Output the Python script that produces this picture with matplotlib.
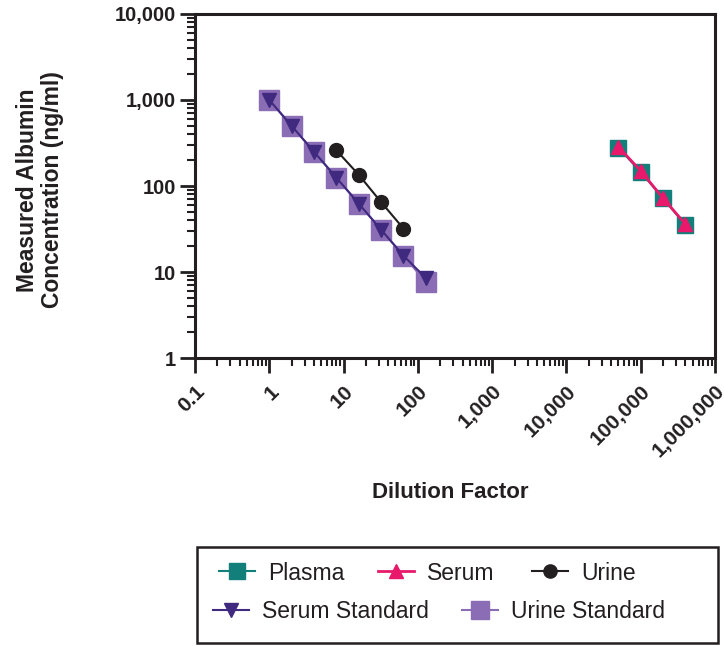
import matplotlib
matplotlib.use("Agg")
import matplotlib.pyplot as plt
from matplotlib.ticker import LogLocator, FixedLocator, NullFormatter
from matplotlib.patches import Rectangle

plt.rcParams['font.family'] = ['Liberation Sans', 'DejaVu Sans']

# Data
std_x = [1, 2, 4, 8, 16, 32, 64, 128]
urine_std_y = [1000, 500, 250, 125, 62.5, 31, 15.5, 7.6]
serum_std_y = [1000, 500, 250, 125, 62.5, 31, 15.5, 8.5]
urine_x = [8, 16, 32, 64]
urine_y = [260, 135, 65, 32]
plasma_x = [50000, 100000, 200000, 400000]
plasma_y = [280, 145, 72, 35]
serum_x = [50000, 100000, 200000, 400000]
serum_y = [285, 150, 72, 36]

x_ticks = [0.1, 1, 10, 100, 1000, 10000, 100000, 1000000]
x_labels = ["0.1", "1", "10", "100", "1,000", "10,000", "100,000", "1,000,000"]
y_ticks = [1, 10, 100, 1000, 10000]
y_labels = ["1", "10", "100", "1,000", "10,000"]

c_plasma = "#127f7b"
c_serum = "#e8186b"
c_urine = "#231f20"
c_sstd = "#3f2a7f"
c_ustd = "#8b6db5"
c_axis = "#231f20"

W, H = 724, 646
fig = plt.figure(figsize=(W/100, H/100), dpi=100)
ax = fig.add_axes([195/W, 1-358/H, 520/W, 344/H])

h_ustd, = ax.plot(std_x, urine_std_y, color=c_ustd, marker='s', ms=14, lw=1.5,
                  mec=c_ustd, label='Urine Standard', zorder=2)
h_sstd, = ax.plot(std_x, serum_std_y, color=c_sstd, marker='v', ms=10, lw=1.5,
                  label='Serum Standard', zorder=3)
h_urine, = ax.plot(urine_x, urine_y, color=c_urine, marker='o', ms=10, lw=1.5,
                   label='Urine', zorder=3)
h_plasma, = ax.plot(plasma_x, plasma_y, color=c_plasma, marker='s', ms=12, lw=1.5,
                    label='Plasma', zorder=2)
h_serum, = ax.plot(serum_x, serum_y, color=c_serum, marker='^', ms=10, lw=2,
                   label='Serum', zorder=3)

ax.set_xscale('log')
ax.set_yscale('log')
ax.set_xlim(0.1, 1e6)
ax.set_ylim(1, 1e4)

ax.xaxis.set_major_locator(FixedLocator(x_ticks))
ax.set_xticklabels(x_labels, rotation=45, ha='right', va='top', rotation_mode='anchor',
                   fontsize=15, fontweight='bold', color=c_axis)
ax.yaxis.set_major_locator(FixedLocator(y_ticks))
ax.set_yticklabels(y_labels, fontsize=14.5, fontweight='bold', color=c_axis)
ax.xaxis.set_minor_locator(LogLocator(base=10, subs=range(2, 10), numticks=20))
ax.yaxis.set_minor_locator(LogLocator(base=10, subs=range(2, 10), numticks=20))
ax.xaxis.set_minor_formatter(NullFormatter())
ax.yaxis.set_minor_formatter(NullFormatter())

ax.tick_params(which='major', direction='out', length=10.5, width=2, color=c_axis, pad=3)
ax.tick_params(axis='x', which='major', pad=6.5)
ax.tick_params(which='minor', direction='out', length=5.5, width=1.5, color=c_axis)
for s in ax.spines.values():
    s.set_linewidth(2.2)
    s.set_color(c_axis)

ax.set_xlabel("Dilution Factor", fontsize=16, fontweight='bold', color=c_axis, va='center')
ax.xaxis.set_label_coords(0.49, (358-492)/344)
ax.set_ylabel("Measured Albumin\nConcentration (ng/ml)", fontsize=16.5, fontweight='bold',
              color=c_axis, va='center', linespacing=1.1)
ax.yaxis.set_label_coords((40-195)/520, (358-190)/344)

# Legend: frame plus one legend per entry, positioned like the reference
fig.add_artist(Rectangle((197/W, 1-643/H), 521/W, 96/H, transform=fig.transFigure,
                         fill=False, edgecolor=c_axis, linewidth=1.8))
entries = [
    (h_plasma, 'Plasma', 219, 573),
    (h_serum, 'Serum', 378, 573),
    (h_urine, 'Urine', 532, 573),
    (h_sstd, 'Serum Standard', 213, 612),
    (h_ustd, 'Urine Standard', 462, 612),
]
for h, lab, px, py in entries:
    lg = fig.legend([h], [lab], loc='center left', bbox_to_anchor=(px/W, 1-py/H),
                    frameon=False, fontsize=16.5, borderpad=0, borderaxespad=0,
                    handlelength=1.55, handletextpad=0.6, markerscale=0.95)
    for t in lg.get_texts():
        t.set_color(c_axis)

fig.savefig("out.png", dpi=100)
